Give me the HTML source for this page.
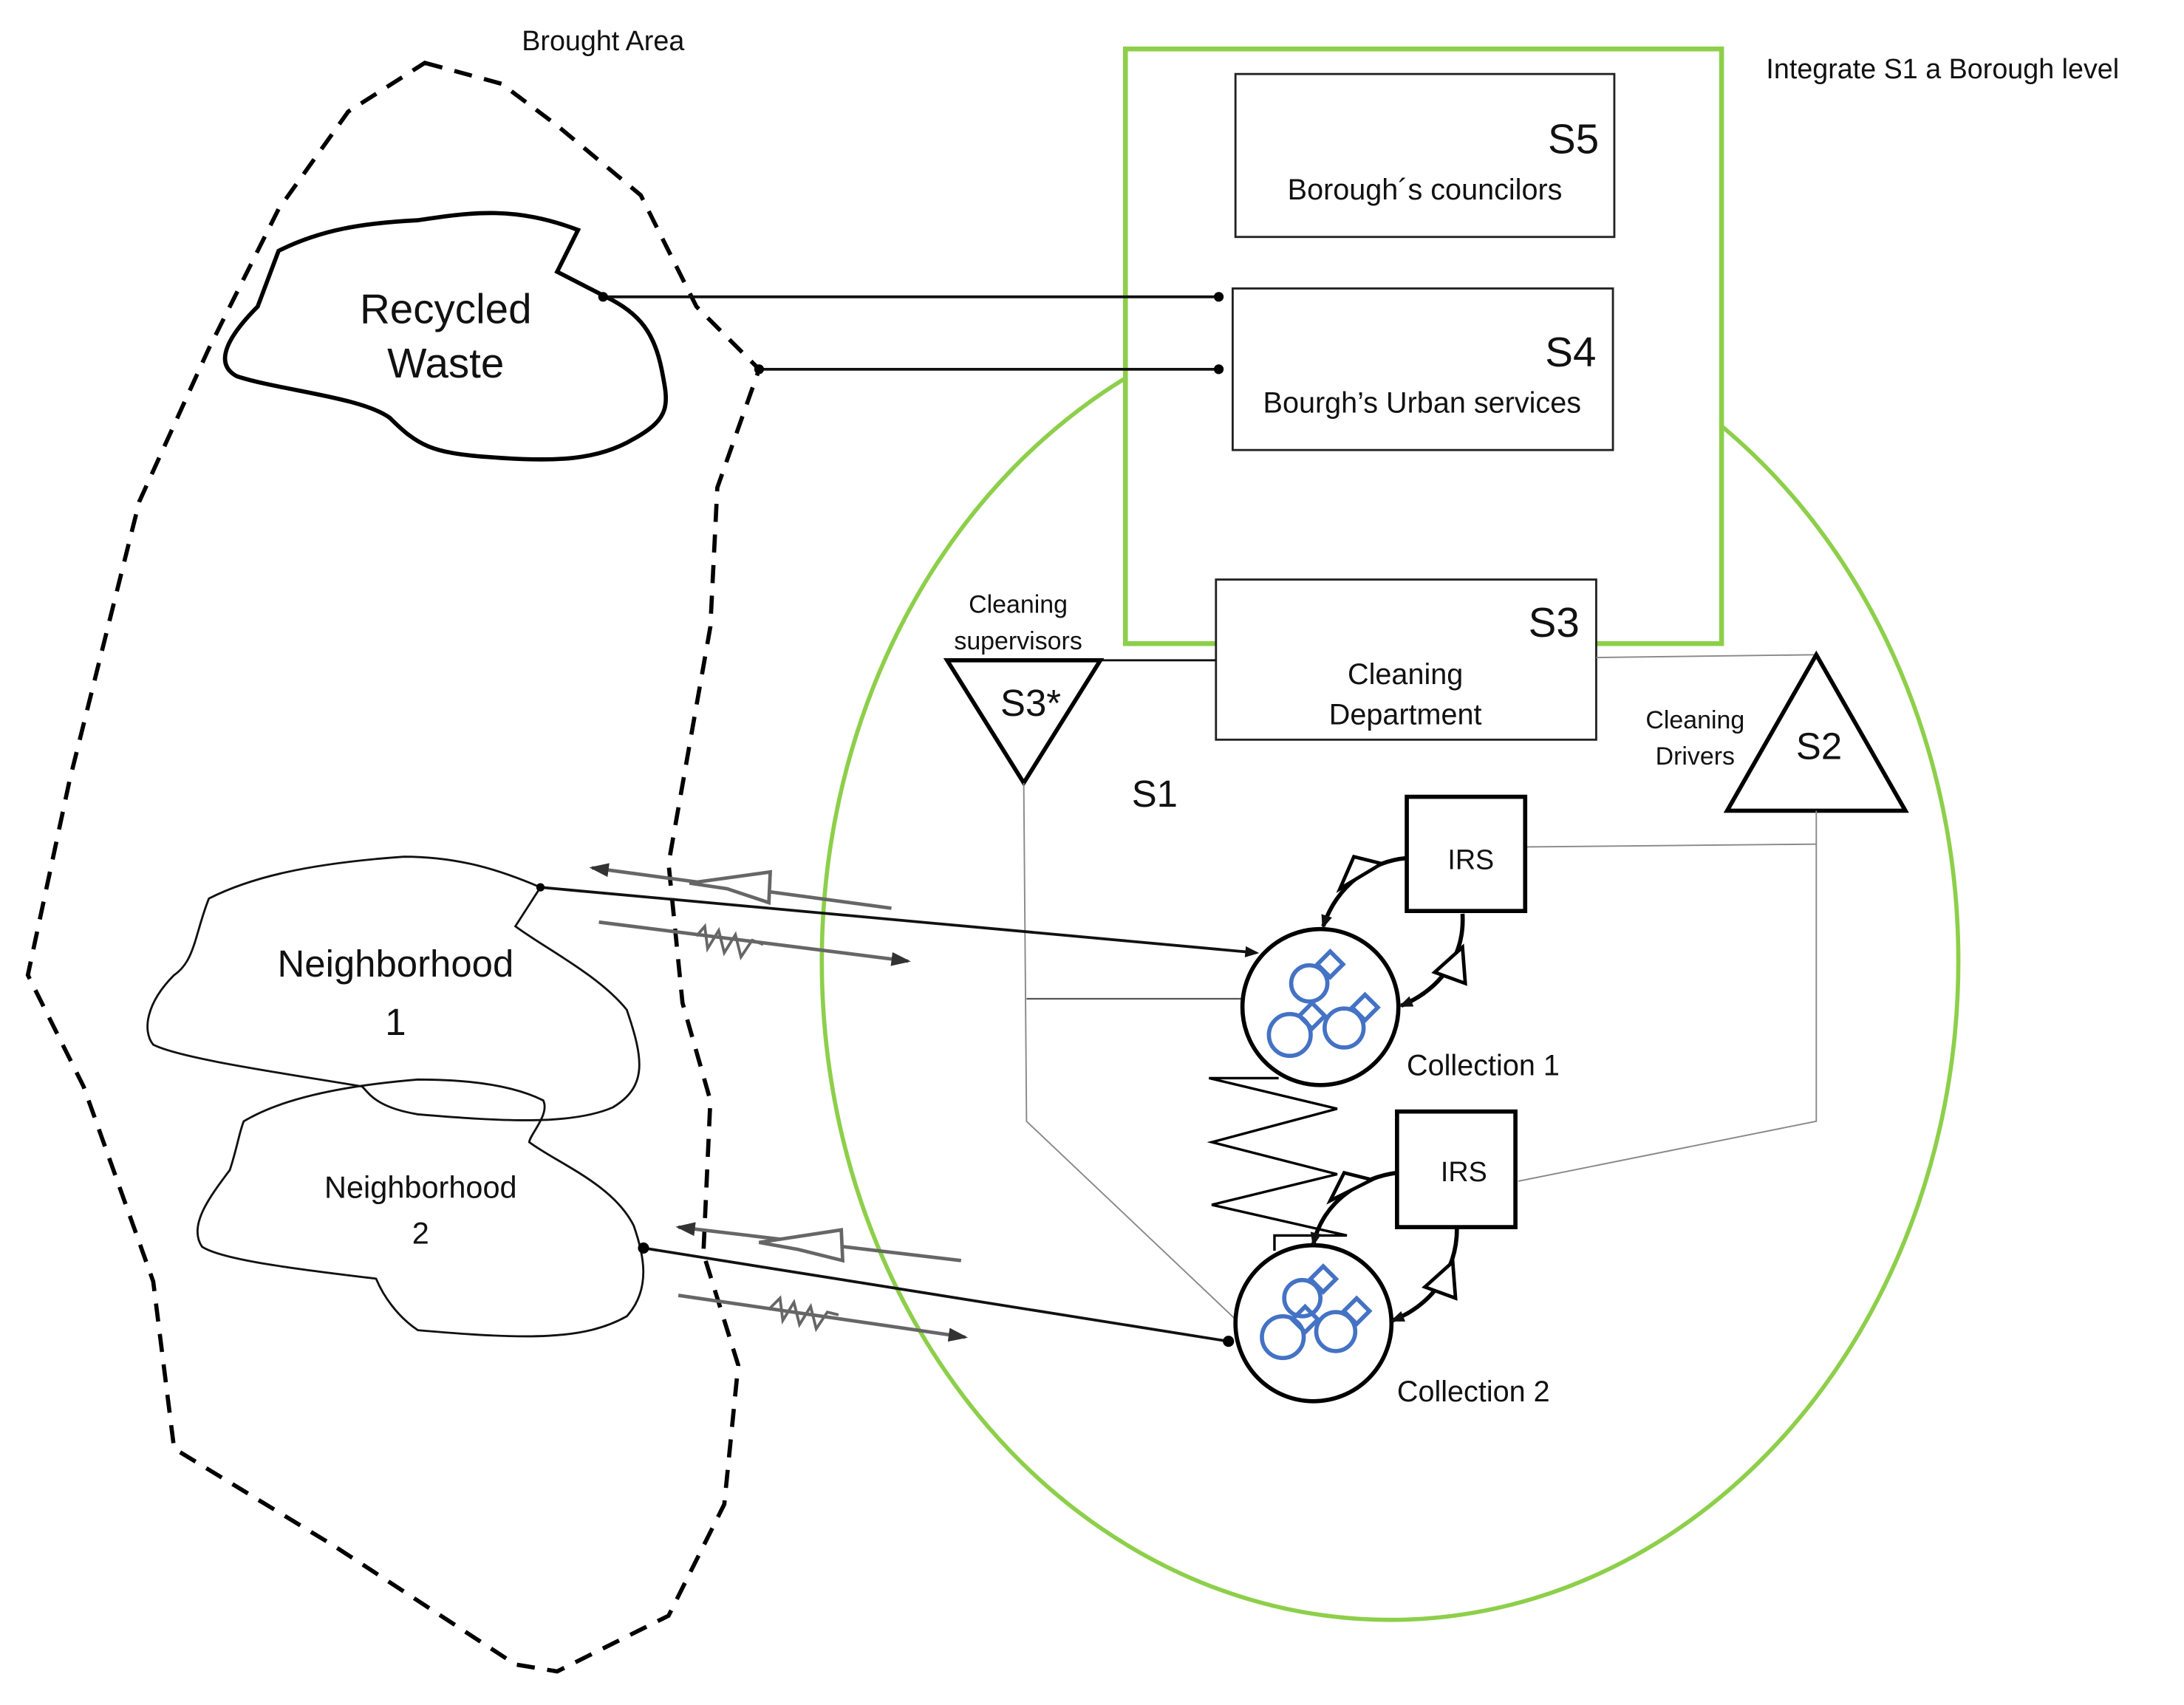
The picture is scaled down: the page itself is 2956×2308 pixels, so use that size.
<!DOCTYPE html>
<html><head><meta charset="utf-8"><style>
html,body{margin:0;padding:0;background:#fff;}
svg{display:block;}
text{font-family:"Liberation Sans",sans-serif;fill:#111;}
</style></head><body>
<svg width="2956" height="2308" viewBox="0 0 1568 1224" xmlns="http://www.w3.org/2000/svg">
<defs>
<marker id="ab" markerWidth="10" markerHeight="10" refX="8" refY="5" orient="auto" markerUnits="userSpaceOnUse"><path d="M0,1 L10,5 L0,9 Z" fill="#111"/></marker>
<marker id="ag" markerWidth="14" markerHeight="12" refX="12" refY="6" orient="auto" markerUnits="userSpaceOnUse"><path d="M0,1 L14,6 L0,11 Z" fill="#333"/></marker>
</defs>
<rect width="1568" height="1224" fill="#fff"/>

<!-- Brought area dashed -->
<path d="M305,45 L360,60 L400,90 L460,140 L500,220 L545,265 L515,350 L510,450 L480,620 L490,720 L510,790 L505,900 L530,980 L520,1080 L480,1160 L400,1200 L370,1195 L240,1110 L125,1040 L110,920 L60,780 L20,700 L50,560 L100,360 L150,250 L200,150 L250,80 Z" fill="none" stroke="#000" stroke-width="3" stroke-dasharray="13,9"/>
<text x="433" y="36" font-size="20" text-anchor="middle">Brought Area</text>

<!-- Recycled waste -->
<path d="M200,180 C230,165 260,160 300,158 C340,152 370,148 415,165 L400,195 L435,213 C460,225 470,240 475,265 C480,290 482,300 455,315 C430,330 400,332 350,328 C310,325 300,320 280,300 C260,285 200,280 170,270 C155,262 160,245 185,220 Z" fill="none" stroke="#000" stroke-width="3"/>
<text x="320" y="232" font-size="30" text-anchor="middle">Recycled</text>
<text x="320" y="271" font-size="30" text-anchor="middle">Waste</text>

<!-- Green ellipse -->
<ellipse cx="998" cy="690" rx="408" ry="473" fill="none" stroke="#8dcf4a" stroke-width="3"/>
<rect x="808" y="35" width="428" height="427" fill="#fff" stroke="#8dcf4a" stroke-width="3.5"/>
<text x="1268" y="56" font-size="20">Integrate S1 a Borough level</text>

<!-- lines to S4 -->
<line x1="433" y1="213" x2="875" y2="213" stroke="#111" stroke-width="2"/>
<line x1="545" y1="265" x2="875" y2="265" stroke="#111" stroke-width="2"/>
<circle cx="433" cy="213" r="3.5"/><circle cx="875" cy="213" r="3.5"/>
<circle cx="545" cy="265" r="3.5"/><circle cx="875" cy="265" r="3.5"/>

<!-- S5 -->
<rect x="887" y="53" width="272" height="117" fill="#fff" stroke="#222" stroke-width="1.5"/>
<text x="1148" y="110" font-size="30" text-anchor="end">S5</text>
<text x="1023" y="143" font-size="21" text-anchor="middle">Borough´s councilors</text>
<!-- S4 -->
<rect x="885" y="207" width="273" height="116" fill="#fff" stroke="#222" stroke-width="1.5"/>
<text x="1146" y="263" font-size="30" text-anchor="end">S4</text>
<text x="1021" y="296" font-size="21" text-anchor="middle">Bourgh’s Urban services</text>

<!-- S3 -->
<rect x="873" y="416" width="273" height="115" fill="#fff" stroke="#222" stroke-width="1.5"/>
<text x="1134" y="457" font-size="30" text-anchor="end">S3</text>
<text x="1009" y="491" font-size="21" text-anchor="middle">Cleaning</text>
<text x="1009" y="520" font-size="21" text-anchor="middle">Department</text>

<!-- S3* -->
<line x1="790" y1="474" x2="873" y2="474" stroke="#111" stroke-width="1.5"/>
<polygon points="680,474 790,474 735,562" fill="#fff" stroke="#000" stroke-width="3"/>
<text x="740" y="514" font-size="27" text-anchor="middle">S3*</text>
<text x="731" y="440" font-size="18" text-anchor="middle">Cleaning</text>
<text x="731" y="466" font-size="18" text-anchor="middle">supervisors</text>

<!-- S2 -->
<line x1="1146" y1="472" x2="1304" y2="470" stroke="#888" stroke-width="1"/>
<polygon points="1304,470 1240,582 1368,582" fill="#fff" stroke="#000" stroke-width="3"/>
<text x="1306" y="545" font-size="27" text-anchor="middle">S2</text>
<text x="1217" y="523" font-size="18" text-anchor="middle">Cleaning</text>
<text x="1217" y="549" font-size="18" text-anchor="middle">Drivers</text>

<text x="829" y="579" font-size="27" text-anchor="middle">S1</text>

<!-- thin gray lines -->
<polyline points="735,562 737,805 890,950" fill="none" stroke="#888" stroke-width="1"/>
<line x1="737" y1="717" x2="893" y2="717" stroke="#555" stroke-width="1.2"/>
<polyline points="1096,608 1304,606" fill="none" stroke="#888" stroke-width="1"/>
<polyline points="1304,582 1304,805 1090,848" fill="none" stroke="#888" stroke-width="1"/>

<!-- IRS boxes -->
<rect x="1010" y="572" width="85" height="82" fill="#fff" stroke="#000" stroke-width="3"/>
<text x="1056" y="624" font-size="20" text-anchor="middle">IRS</text>
<rect x="1003" y="798" width="85" height="83" fill="#fff" stroke="#000" stroke-width="3"/>
<text x="1051" y="848" font-size="20" text-anchor="middle">IRS</text>

<!-- zigzag -->
<polyline points="918,774 868,774 960,796 870,820 960,843 870,865 967,887 915,887 915,898" fill="none" stroke="#000" stroke-width="1.8"/>

<!-- Collection circles -->
<circle cx="948" cy="723" r="56" fill="#fff" stroke="#000" stroke-width="3"/>
<circle cx="943" cy="950" r="56" fill="#fff" stroke="#000" stroke-width="3"/>
<g fill="none" stroke="#4472c4" stroke-width="3">
 <circle cx="940" cy="706" r="13"/><rect x="948" y="686" width="13" height="13" transform="rotate(45 955 693)"/>
 <circle cx="926" cy="743" r="15"/><rect x="935" y="723" width="13" height="13" transform="rotate(45 942 730)"/>
 <circle cx="965" cy="738" r="14"/><rect x="973" y="717" width="13" height="13" transform="rotate(45 980 724)"/>
 <circle cx="935" cy="932" r="13"/><rect x="943" y="912" width="13" height="13" transform="rotate(45 950 919)"/>
 <circle cx="921" cy="960" r="15"/><rect x="930" y="941" width="13" height="13" transform="rotate(45 937 948)"/>
 <circle cx="959" cy="956" r="14"/><rect x="967" y="935" width="13" height="13" transform="rotate(45 974 942)"/>
</g>
<text x="1010" y="772" font-size="21">Collection 1</text>
<text x="1003" y="1006" font-size="21">Collection 2</text>

<!-- feedback loops -->
<g fill="none" stroke="#000" stroke-width="3">
 <path d="M1010,616 C985,618 960,635 950,665" marker-end="url(#ab)"/>
 <path d="M1050,656 C1052,690 1030,712 1006,722" marker-end="url(#ab)"/>
 <path d="M1003,842 C978,845 950,862 943,893" marker-end="url(#ab)"/>
 <path d="M1046,882 C1046,915 1025,938 1000,948" marker-end="url(#ab)"/>
</g>
<g fill="#fff" stroke="#000" stroke-width="2.5">
 <polygon points="972,615 992,620 962,638"/>
 <polygon points="1050,680 1052,706 1030,698"/>
 <polygon points="965,842 985,847 955,862"/>
 <polygon points="1043,906 1045,932 1023,924"/>
</g>

<!-- Neighborhoods -->
<path d="M150,645 C180,630 220,620 290,615 C330,615 360,625 388,637 L370,665 C390,680 430,700 450,725 C462,760 465,780 440,795 C410,808 360,805 300,800 C270,795 265,785 260,780 C200,770 130,760 110,750 C102,740 105,720 125,700 C140,690 140,670 150,645 Z" fill="none" stroke="#111" stroke-width="1.5"/>
<path d="M175,805 C200,790 240,780 300,775 C340,775 370,780 390,790 C395,800 380,815 380,820 C400,835 440,850 455,880 C462,900 468,925 450,945 C420,962 380,962 300,955 C285,945 275,930 270,918 C220,912 160,905 145,895 C135,880 150,860 165,840 C170,825 172,812 175,805 Z" fill="none" stroke="#111" stroke-width="1.5"/>
<text x="284" y="701" font-size="27" text-anchor="middle">Neighborhood</text>
<text x="284" y="743" font-size="27" text-anchor="middle">1</text>
<text x="302" y="860" font-size="22" text-anchor="middle">Neighborhood</text>
<text x="302" y="893" font-size="22" text-anchor="middle">2</text>

<!-- N lines -->
<line x1="388" y1="637" x2="902" y2="684" stroke="#111" stroke-width="2" marker-end="url(#ab)"/>
<circle cx="388" cy="637" r="3"/>
<line x1="462" y1="896" x2="882" y2="963" stroke="#111" stroke-width="2"/>
<circle cx="462" cy="896" r="4"/><circle cx="882" cy="963" r="4"/>

<!-- gray arrows -->
<g fill="none" stroke="#666" stroke-width="2.5">
 <line x1="640" y1="652" x2="425" y2="623" marker-end="url(#ag)"/>
 <polygon points="553,626 552,648 522,638 495,634" fill="#fff"/>
 <line x1="430" y1="662" x2="652" y2="690" marker-end="url(#ag)"/>
 <polyline points="500,672 506,665 508,681 516,668 520,684 528,671 532,687 540,675 548,678" stroke-width="2"/>
 <line x1="690" y1="905" x2="487" y2="881" marker-end="url(#ag)"/>
 <polygon points="604,883 605,905 573,897 545,892" fill="#fff"/>
 <line x1="487" y1="930" x2="693" y2="960" marker-end="url(#ag)"/>
 <polyline points="553,939 560,932 562,948 570,935 574,951 582,938 586,954 594,942 602,944" stroke-width="2"/>
</g>
</svg>
</body></html>
